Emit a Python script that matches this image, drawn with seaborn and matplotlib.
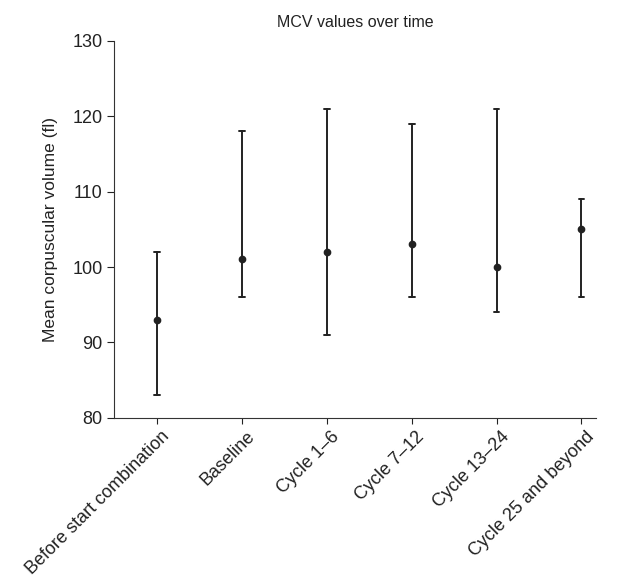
import pandas as pd
import numpy as np
import seaborn as sns
import matplotlib.pyplot as plt
from matplotlib.transforms import ScaledTranslation

# values
periods = ["Before start combination", "Baseline", "Cycle 1\u20136", "Cycle 7\u201312",
           "Cycle 13\u201324", "Cycle 25 and beyond"]
mean_mcv = [93, 101, 102, 103, 100, 105]
low_mcv = [83, 96, 91, 96, 94, 96]
high_mcv = [102, 118, 121, 119, 121, 109]

# long table: low/mean/high per period -> median = mean, 100% interval = low..high
df = pd.DataFrame({
    "period": periods * 3,
    "mcv": low_mcv + mean_mcv + high_mcv,
})
df["period"] = pd.Categorical(df["period"], categories=periods, ordered=True)

sns.set_style("ticks")
plt.rcParams['font.family'] = ['Liberation Sans', 'DejaVu Sans']

fig = plt.figure(figsize=(6.24, 5.77), dpi=100)
ax = fig.add_axes([0.183, 0.276, 0.772, 0.653])

sns.pointplot(data=df, x="period", y="mcv", estimator=np.median, errorbar=("pi", 100),
              linestyle="none", color="#222222", markers="o", markersize=3.5,
              capsize=0.07, err_kws={"linewidth": 1.4}, ax=ax)

ax.set_ylim(80, 130)
ax.set_yticks([80, 90, 100, 110, 120, 130])
ax.set_xlim(-0.5, 5.17)
ax.set_xlabel("")
ax.set_ylabel("Mean corpuscular volume (fl)", fontsize=12.5, color="#222222", labelpad=10)
ax.set_title("MCV values over time", fontsize=11.5, color="#222222", pad=10)
ax.tick_params(axis="y", labelsize=13, colors="#222222", length=5)
ax.tick_params(axis="x", labelsize=13, colors="#222222", length=4)
offset = ScaledTranslation(3 / 72, 0, fig.dpi_scale_trans)
for lab in ax.get_xticklabels():
    lab.set_rotation(45)
    lab.set_ha("right")
    lab.set_rotation_mode("anchor")
    lab.set_transform(lab.get_transform() + offset)
for s in ["top", "right"]:
    ax.spines[s].set_visible(False)
for s in ["left", "bottom"]:
    ax.spines[s].set_color("#333333")

fig.savefig("out.png", dpi=100)
